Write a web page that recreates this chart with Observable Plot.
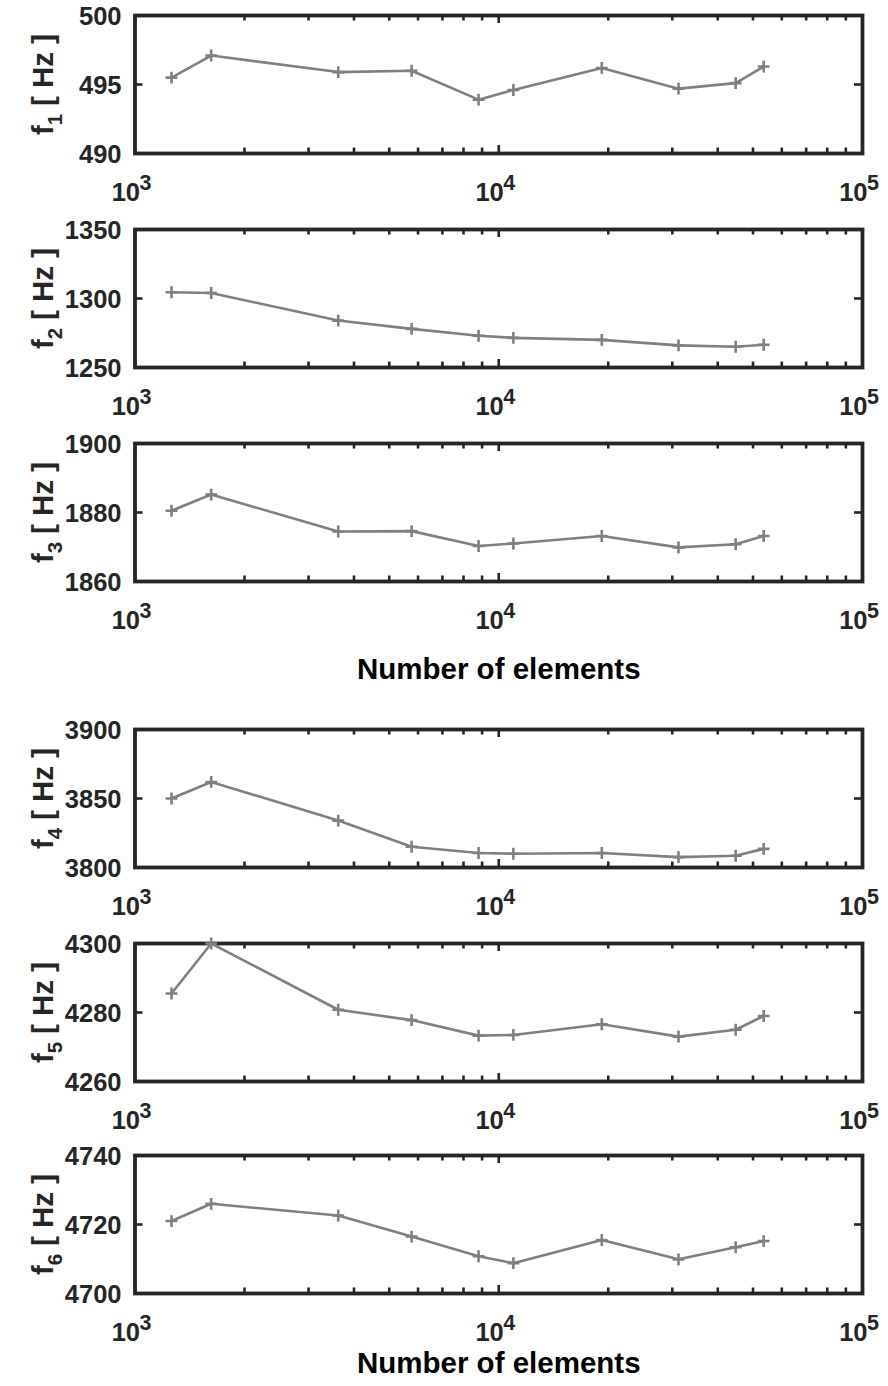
<!DOCTYPE html>
<html>
<head>
<meta charset="utf-8">
<script src="https://cdn.jsdelivr.net/npm/d3@7"></script>
<script src="https://cdn.jsdelivr.net/npm/@observablehq/plot@0.6"></script>
<style>
  body { margin: 0; background: #fff; }
  #fig { position: relative; width: 888px; height: 1386px; overflow: hidden; background: #fff; }
  #fig svg { position: absolute; left: 0; }
</style>
</head>
<body>
<div id="fig"></div>
<script>
// Mesh sizes (number of elements) used in the convergence study
const elements = [1260, 1620, 3620, 5760, 8800, 10970, 19200, 31200, 44800, 53500];

// Natural frequencies f1..f6 [Hz] computed on each mesh
const f1 = [495.5, 497.1, 495.9, 496.0, 493.9, 494.6, 496.2, 494.7, 495.1, 496.3];
const f2 = [1304.5, 1304.0, 1284.0, 1278.0, 1273.0, 1271.5, 1270.0, 1266.0, 1265.0, 1266.5];
const f3 = [1880.5, 1885.2, 1874.5, 1874.6, 1870.3, 1871.0, 1873.2, 1869.9, 1870.8, 1873.2];
const f4 = [3850.0, 3862.0, 3834.0, 3815.0, 3810.5, 3810.0, 3810.5, 3807.5, 3808.5, 3813.5];
const f5 = [4285.5, 4300.0, 4280.8, 4277.8, 4273.3, 4273.5, 4276.6, 4273.0, 4275.0, 4279.0];
const f6 = [4721.0, 4726.0, 4722.6, 4716.5, 4710.8, 4708.8, 4715.5, 4709.9, 4713.4, 4715.2];

// y tick values for each subplot
const yTicks1 = [490, 495, 500];
const yTicks2 = [1250, 1300, 1350];
const yTicks3 = [1860, 1880, 1900];
const yTicks4 = [3800, 3850, 3900];
const yTicks5 = [4260, 4280, 4300];
const yTicks6 = [4700, 4720, 4740];

// log x axis ticks
const xMajor = [1e3, 1e4, 1e5];
const xMinor = [2e3, 3e3, 4e3, 5e3, 6e3, 7e3, 8e3, 9e3, 2e4, 3e4, 4e4, 5e4, 6e4, 7e4, 8e4, 9e4];

const xLabel = "Number of elements";
const unitLabel = "[ Hz ]";

const ink = "#262626";
const lineColor = "#808080";
const font = "'Liberation Sans', Arial, Helvetica, sans-serif";

const W = 888, ML = 134.5, MR = 26, MT = 16, IH = 138;
const IW = W - ML - MR;

// one subplot: boxed axes with inward ticks, log x, linear y
function panel(values, yTicks, mode, top, labelOffset) {
  const MB = labelOffset ? labelOffset + 16 : 62;
  const data = elements.map((n, i) => ({n, f: values[i]}));
  const marks = [
    Plot.ruleX(xMinor, {x: d => d, insetTop: IH - 5.5, stroke: ink, strokeWidth: 2.6}),
    Plot.ruleX(xMinor, {x: d => d, insetBottom: IH - 5.5, stroke: ink, strokeWidth: 2.6}),
    Plot.ruleX(xMajor, {x: d => d, insetTop: IH - 8, stroke: ink, strokeWidth: 2.6}),
    Plot.ruleX(xMajor, {x: d => d, insetBottom: IH - 8, stroke: ink, strokeWidth: 2.6}),
    Plot.ruleY(yTicks, {y: d => d, insetRight: IW - 8, stroke: ink, strokeWidth: 2.6}),
    Plot.ruleY(yTicks, {y: d => d, insetLeft: IW - 8, stroke: ink, strokeWidth: 2.6}),
    Plot.frame({stroke: ink, strokeWidth: 3.8}),
    // y tick labels
    Plot.text(yTicks, {
      y: d => d, text: d => String(d), frameAnchor: "left", textAnchor: "end", lineAnchor: "bottom",
      dx: -13.5, dy: 9.3, fontSize: 25.5, fontWeight: "bold", fill: ink
    }),
    // x tick labels: base 10 with a raised exponent
    Plot.text(xMajor, {
      x: d => d, text: () => "10", frameAnchor: "bottom", textAnchor: "end", lineAnchor: "bottom",
      dx: 5, dy: 47, fontSize: 25.5, fontWeight: "bold", fill: ink
    }),
    Plot.text(xMajor, {
      x: d => d, text: d => String(Math.round(Math.log10(d))), frameAnchor: "bottom", textAnchor: "start",
      lineAnchor: "bottom", dx: 4.5, dy: 36, fontSize: 21.5, fontWeight: "bold", fill: ink
    }),
    // rotated y label: f with subscript mode number, then the unit
    Plot.text(["f"], {
      text: d => d, frameAnchor: "left", rotate: -90, textAnchor: "start", lineAnchor: "bottom",
      dx: -82.5, dy: 50.6, fontSize: 29.5, fontWeight: "bold", fill: ink
    }),
    Plot.text([String(mode)], {
      text: d => d, frameAnchor: "left", rotate: -90, textAnchor: "start", lineAnchor: "bottom",
      dx: -73, dy: 40.8, fontSize: 20.5, fontWeight: "bold", fill: ink
    }),
    Plot.text([unitLabel], {
      text: d => d, frameAnchor: "left", rotate: -90, textAnchor: "start", lineAnchor: "bottom",
      dx: -82.5, dy: 21.5, fontSize: 29.5, fontWeight: "bold", fill: ink
    }),
    // convergence curve
    Plot.line(data, {x: "n", y: "f", stroke: lineColor, strokeWidth: 2.6}),
    Plot.dot(data, {x: "n", y: "f", symbol: "plus", r: 3.9, stroke: lineColor, strokeWidth: 2.6, fill: "none"})
  ];
  if (labelOffset) {
    marks.push(Plot.text([xLabel], {
      text: d => d, frameAnchor: "bottom", lineAnchor: "bottom", dy: labelOffset,
      fontSize: 29.5, fontWeight: "bold", fill: "#000"
    }));
  }
  const svg = Plot.plot({
    width: W,
    height: MT + IH + MB,
    marginLeft: ML, marginRight: MR, marginTop: MT, marginBottom: MB,
    style: {fontFamily: font, background: "transparent", overflow: "visible"},
    x: {type: "log", domain: [1e3, 1e5], axis: null},
    y: {domain: [yTicks[0], yTicks[yTicks.length - 1]], axis: null},
    marks
  });
  svg.style.top = (top - MT) + "px";
  return svg;
}

const fig = document.getElementById("fig");
fig.append(
  panel(f1, yTicks1, 1, 15.3, 0),
  panel(f2, yTicks2, 2, 229.3, 0),
  panel(f3, yTicks3, 3, 442.7, 97),
  panel(f4, yTicks4, 4, 729.3, 0),
  panel(f5, yTicks5, 5, 942.7, 0),
  panel(f6, yTicks6, 6, 1155.3, 79)
);
</script>
</body>
</html>
